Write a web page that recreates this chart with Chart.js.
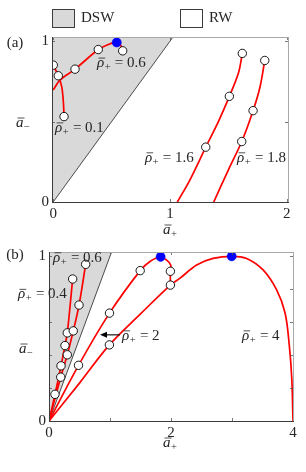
<!DOCTYPE html>
<html>
<head>
<meta charset="utf-8">
<script src="https://cdn.jsdelivr.net/npm/chart.js@4.4.1/dist/chart.umd.min.js"></script>
<style>
html, body { margin: 0; padding: 0; background: #fff; }
#wrap { position: relative; width: 306px; height: 472px; }
.box { position: absolute; left: 0; width: 306px; }
</style>
</head>
<body>
<div id="wrap">
  <div class="box" style="top:0;height:240px"><canvas id="chartA"></canvas></div>
  <div class="box" style="top:240px;height:232px"><canvas id="chartB"></canvas></div>
</div>
<script>
// ---- panel (a) data ----
const aRho06X = [0, 0.058, 0.187, 0.386, 0.458, 0.544, 0.578, 0.595];
const aRho06Y = [0.696, 0.758, 0.826, 0.948, 0.975, 0.992, 0.975, 0.94];
const aRho01X = [0.001, 0.044, 0.073, 0.087, 0.093];
const aRho01Y = [0.851, 0.785, 0.717, 0.624, 0.531];
const aRho16X = [1.063, 1.171, 1.306, 1.414, 1.508, 1.585, 1.619];
const aRho16Y = [0, 0.138, 0.341, 0.5, 0.657, 0.8, 0.924];
const aRho18X = [1.374, 1.50, 1.614, 1.711, 1.771, 1.811];
const aRho18Y = [0, 0.2, 0.376, 0.568, 0.717, 0.880];
const aOpenX = [0.001, 0.044, 0.093, 0.187, 0.386, 0.595, 1.306, 1.508, 1.619, 1.614, 1.711, 1.811];
const aOpenY = [0.851, 0.785, 0.531, 0.826, 0.948, 0.94, 0.341, 0.657, 0.924, 0.376, 0.568, 0.880];
const aBlueX = [0.544];
const aBlueY = [0.992];
const aXTicks = [0, 1, 2];
const aYTicks = [0, 0.5, 1];

// ---- panel (b) data ----
const bRho04X = [0, 0.098, 0.197, 0.262, 0.3, 0.388];
const bRho04Y = [0, 0.162, 0.335, 0.458, 0.535, 0.862];
const bRho06X = [0, 0.192, 0.3, 0.398, 0.492, 0.601];
const bRho06Y = [0, 0.266, 0.402, 0.547, 0.704, 0.951];
const bRho2X = [0, 0.484, 0.992, 1.495, 1.65, 1.83, 1.93, 1.995, 1.99, 1.99];
const bRho2Y = [0, 0.338, 0.655, 0.913, 0.967, 0.997, 0.977, 0.947, 0.909, 0.825];
const bRho4X = [0, 0.5, 0.99, 1.5, 1.99, 2.148, 2.42, 2.69, 2.995, 3.24, 3.51, 3.73, 3.87, 3.94, 3.98, 4.0];
const bRho4Y = [0, 0.23, 0.462, 0.65, 0.825, 0.867, 0.947, 0.987, 1.0, 0.987, 0.917, 0.797, 0.656, 0.456, 0.256, 0];
const bOpenX = [0.098, 0.197, 0.262, 0.3, 0.388, 0.192, 0.3, 0.398, 0.492, 0.601, 0.484, 0.992, 1.495, 1.99, 1.99, 0.99];
const bOpenY = [0.162, 0.335, 0.458, 0.535, 0.862, 0.266, 0.402, 0.547, 0.704, 0.951, 0.338, 0.655, 0.913, 0.909, 0.825, 0.462];
const bBlueX = [1.83, 2.995];
const bBlueY = [0.997, 1.0];
const bXTicks = [0, 1, 2, 3, 4];
const bYTicks = [0, 0.2, 0.4, 0.6, 0.8, 1];

const YMAX = 1.026;
const ink = '#262626';
const serif = '"Liberation Serif", "DejaVu Serif", serif';

const pts = (xs, ys) => xs.map((x, i) => ({ x: x, y: ys[i] }));

function curve(xs, ys) {
    return { data: pts(xs, ys), borderColor: '#ff0000', borderWidth: 1.7, pointRadius: 0, tension: 0.35, fill: false, order: 2 };
}
function openDots(xs, ys) {
    return { type: 'scatter', data: pts(xs, ys), pointRadius: 4.2, pointBackgroundColor: '#ffffff', pointBorderColor: '#000000', pointBorderWidth: 0.9, showLine: false, order: 0 };
}
function blueDots(xs, ys) {
    return { type: 'scatter', data: pts(xs, ys), pointRadius: 4.6, pointBackgroundColor: '#0000ff', pointBorderColor: '#0000ff', pointBorderWidth: 0.5, showLine: false, order: 0 };
}
function dswRegion(x0) {
    // line a- = a+, everything above it shaded
    return { data: [{ x: x0, y: x0 }, { x: YMAX, y: YMAX }], borderColor: '#222', borderWidth: 0.8, backgroundColor: '#d9d9d9', pointRadius: 0, fill: 'end', order: 3 };
}

// overbar symbol with subscript, plus optional trailing text
function drawMath(ctx, x, y, base, sub, rest) {
    const size = 15;
    ctx.save();
    ctx.fillStyle = ink; ctx.strokeStyle = ink;
    ctx.textAlign = 'left'; ctx.textBaseline = 'alphabetic';
    const yb = y + 5;
    ctx.font = 'italic ' + size + 'px ' + serif;
    const wb = ctx.measureText(base).width;
    ctx.fillText(base, x, yb);
    ctx.lineWidth = 0.8;
    ctx.beginPath(); ctx.moveTo(x + 1.5, yb - 9); ctx.lineTo(x + wb + 1, yb - 9); ctx.stroke();
    ctx.font = '10.5px ' + serif;
    ctx.fillText(sub, x + wb + 0.5, yb + 3);
    const ws = ctx.measureText(sub).width;
    if (rest) {
        ctx.font = size + 'px ' + serif;
        ctx.fillText(rest, x + wb + ws + 1, yb);
    }
    ctx.restore();
}

const deco = {
    id: 'deco',
    afterDraw(chart, args, o) {
        const ctx = chart.ctx, a = chart.chartArea;
        const xs = chart.scales.x, ys = chart.scales.y;
        ctx.save();
        // inward ticks
        ctx.strokeStyle = '#555'; ctx.lineWidth = 0.8;
        ys.ticks.forEach(t => {
            const p = Math.round(ys.getPixelForValue(t.value)) + 0.5;
            ctx.beginPath(); ctx.moveTo(a.left, p); ctx.lineTo(a.left + 3, p);
            ctx.moveTo(a.right, p); ctx.lineTo(a.right - 3, p); ctx.stroke();
        });
        xs.ticks.forEach(t => {
            const p = Math.round(xs.getPixelForValue(t.value)) + 0.5;
            ctx.beginPath(); ctx.moveTo(p, a.bottom); ctx.lineTo(p, a.bottom - 3);
            ctx.moveTo(p, a.top); ctx.lineTo(p, a.top + 3); ctx.stroke();
        });
        // frame
        ctx.lineWidth = 1;
        ctx.strokeStyle = '#a8a8a8';
        ctx.beginPath();
        ctx.moveTo(Math.round(a.left), Math.round(a.top) + 0.5); ctx.lineTo(Math.round(a.right), Math.round(a.top) + 0.5);
        ctx.moveTo(Math.round(a.right) + 0.5, Math.round(a.top)); ctx.lineTo(Math.round(a.right) + 0.5, Math.round(a.bottom));
        ctx.stroke();
        ctx.strokeStyle = '#3c3c3c';
        ctx.beginPath();
        ctx.moveTo(Math.round(a.left) + 0.5, Math.round(a.top)); ctx.lineTo(Math.round(a.left) + 0.5, Math.round(a.bottom) + 0.5);
        ctx.lineTo(Math.round(a.right) + 1, Math.round(a.bottom) + 0.5);
        ctx.stroke();

        // curve labels in data coordinates
        o.labels.forEach(l => {
            drawMath(ctx, xs.getPixelForValue(l.x), ys.getPixelForValue(l.y), '\u03c1', '+', ' = ' + l.text);
        });
        // axis titles
        drawMath(ctx, 163, o.xTitleY, 'a', '+', '');
        drawMath(ctx, o.yTitleX, o.yTitleY, 'a', '\u2212', '');
        // panel tag
        ctx.fillStyle = ink; ctx.font = '15px ' + serif;
        ctx.textAlign = 'center'; ctx.textBaseline = 'middle';
        ctx.fillText(o.tag, 15, o.tagY);
        // arrow
        if (o.arrow) {
            const y = ys.getPixelForValue(o.arrow.y);
            const x1 = xs.getPixelForValue(o.arrow.from), x2 = xs.getPixelForValue(o.arrow.to);
            ctx.strokeStyle = '#000'; ctx.fillStyle = '#000'; ctx.lineWidth = 1.1;
            ctx.beginPath(); ctx.moveTo(x1, y); ctx.lineTo(x2 + 5, y); ctx.stroke();
            ctx.beginPath(); ctx.moveTo(x2, y); ctx.lineTo(x2 + 7, y - 3); ctx.lineTo(x2 + 7, y + 3); ctx.closePath(); ctx.fill();
        }
        // legend
        if (o.legend) {
            o.legend.forEach(g => {
                ctx.fillStyle = g.fill; ctx.fillRect(g.x, 9, 22, 18);
                ctx.strokeStyle = '#3c3c3c'; ctx.lineWidth = 1;
                ctx.strokeRect(g.x + 0.5, 9.5, 22, 18);
                ctx.fillStyle = ink; ctx.font = '15px ' + serif;
                ctx.textAlign = 'left'; ctx.textBaseline = 'middle';
                ctx.fillText(g.text, g.x + 29, 18.5);
            });
        }
        ctx.restore();
    }
};

function axes(xmin, xmax, xTicks, xLab, yTicks, yLab, yWidth, xHeight, xPad, yPad) {
    const tickFont = { family: serif, size: 15 };
    return {
        x: {
            type: 'linear', min: xmin, max: xmax,
            afterBuildTicks: s => { s.ticks = xTicks.map(v => ({ value: v })); },
            afterFit: s => { s.height = xHeight; },
            ticks: { callback: v => (xLab.includes(v) ? String(v) : ''), font: tickFont, color: ink, padding: xPad, maxRotation: 0, autoSkip: false },
            grid: { display: false, drawTicks: false },
            border: { display: false }
        },
        y: {
            type: 'linear', min: 0, max: YMAX,
            afterBuildTicks: s => { s.ticks = yTicks.map(v => ({ value: v })); },
            afterFit: s => { s.width = yWidth; },
            ticks: { callback: v => (yLab.includes(v) ? String(v) : ''), font: tickFont, color: ink, padding: yPad, autoSkip: false },
            grid: { display: false, drawTicks: false },
            border: { display: false }
        }
    };
}

new Chart(document.getElementById('chartA').getContext('2d'), {
    type: 'line',
    data: {
        datasets: [
            dswRegion(-0.02),
            curve(aRho06X, aRho06Y),
            curve(aRho01X, aRho01Y),
            curve(aRho16X, aRho16Y),
            curve(aRho18X, aRho18Y),
            openDots(aOpenX, aOpenY),
            blueDots(aBlueX, aBlueY)
        ]
    },
    options: {
        responsive: true, maintainAspectRatio: false, animation: false,
        layout: { padding: { left: 0, right: 18, top: 37, bottom: 0 } },
        scales: axes(-0.01, 2.01, aXTicks, [0, 1, 2], aYTicks, [0, 1], 52, 38, 3, 3),
        plugins: {
            legend: { display: false }, tooltip: { enabled: false },
            deco: {
                labels: [
                    { x: 0.375, y: 0.87, text: '0.6' },
                    { x: 0.016, y: 0.467, text: '0.1' },
                    { x: 0.786, y: 0.281, text: '1.6' },
                    { x: 1.574, y: 0.281, text: '1.8' }
                ],
                xTitleY: 229, yTitleX: 16, yTitleY: 122, tag: '(a)', tagY: 43,
                legend: [{ x: 52, fill: '#d9d9d9', text: 'DSW' }, { x: 180, fill: '#ffffff', text: 'RW' }]
            }
        }
    },
    plugins: [deco]
});

new Chart(document.getElementById('chartB').getContext('2d'), {
    type: 'line',
    data: {
        datasets: [
            dswRegion(0),
            curve(bRho04X, bRho04Y),
            curve(bRho06X, bRho06Y),
            curve(bRho2X, bRho2Y),
            curve(bRho4X, bRho4Y),
            openDots(bOpenX, bOpenY),
            blueDots(bBlueX, bBlueY)
        ]
    },
    options: {
        responsive: true, maintainAspectRatio: false, animation: false,
        layout: { padding: { left: 0, right: 13, top: 10, bottom: 0 } },
        scales: axes(0, 4, bXTicks, [0, 2, 4], bYTicks, [0, 1], 49, 51, 3, 3),
        plugins: {
            legend: { display: false }, tooltip: { enabled: false },
            deco: {
                labels: [
                    { x: 0.066, y: 0.997, text: '0.6' },
                    { x: -0.508, y: 0.775, text: '0.4' },
                    { x: 1.197, y: 0.523, text: '2' },
                    { x: 3.164, y: 0.523, text: '4' }
                ],
                arrow: { from: 1.164, to: 0.836, y: 0.523 },
                xTitleY: 202, yTitleX: 19, yTitleY: 108, tag: '(b)', tagY: 15
            }
        }
    },
    plugins: [deco]
});
</script>
</body>
</html>
